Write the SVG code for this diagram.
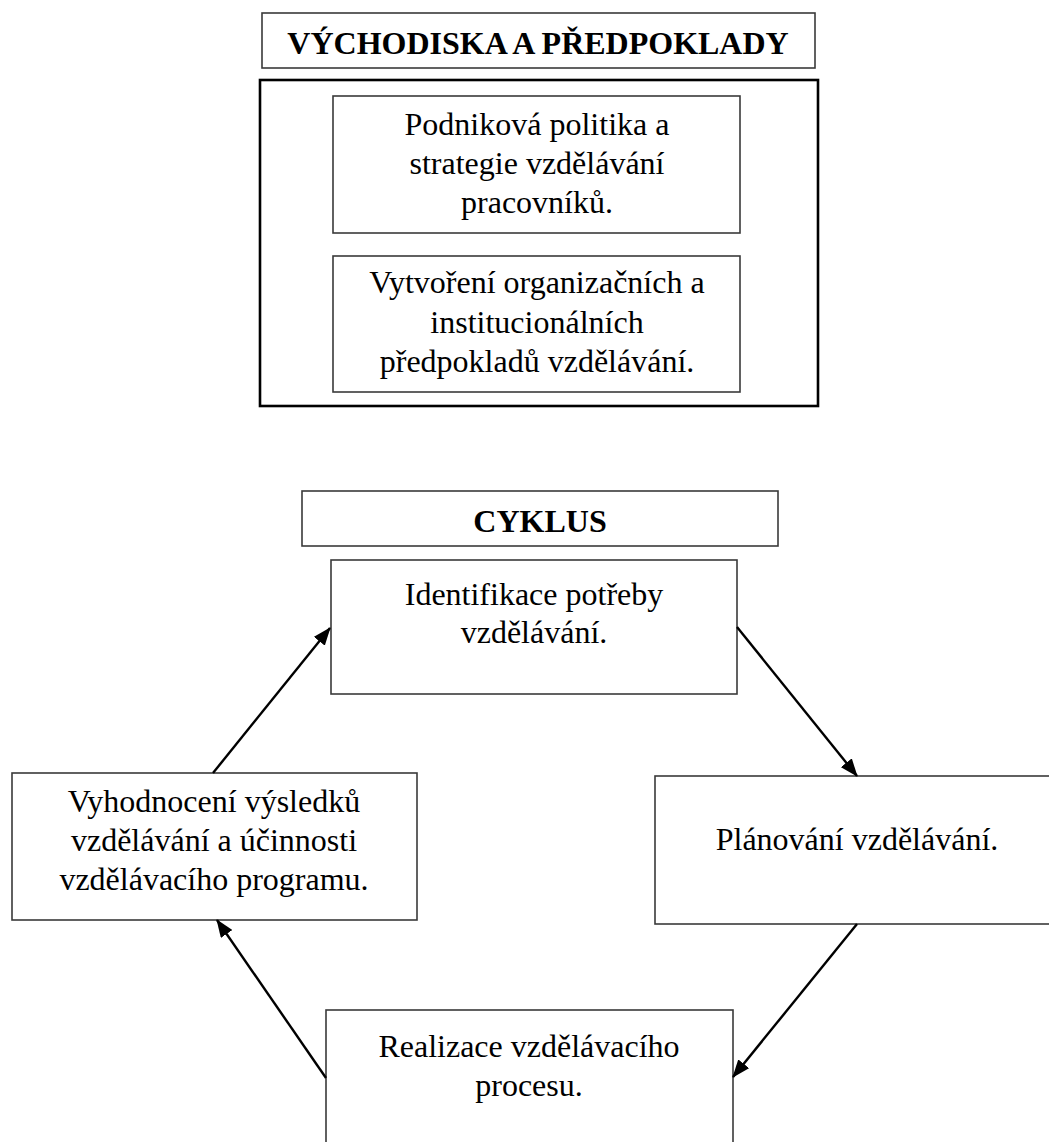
<svg xmlns="http://www.w3.org/2000/svg" width="1049" height="1142" viewBox="0 0 1049 1142">
<defs>
<marker id="ah" markerWidth="18" markerHeight="14" refX="17" refY="7" orient="auto" markerUnits="userSpaceOnUse">
<path d="M0,0 L18,7 L0,14 Z" fill="#000"/>
</marker>
<style>
.box{fill:#fff;stroke:#3a3a3a;stroke-width:1.6}
.outer{fill:none;stroke:#000;stroke-width:2.6}
.t{font-family:"Liberation Serif","Times New Roman",serif;font-size:32px;fill:#000;text-anchor:middle}
.b{font-weight:bold}
.c{stroke:#000;stroke-width:2.4;fill:none;marker-end:url(#ah)}
</style>
</defs>
<rect width="1049" height="1142" fill="#fff"/>
<g id="title">
<rect class="box" x="262" y="13" width="553" height="55"/>
<text class="t b" x="538" y="54">VÝCHODISKA A PŘEDPOKLADY</text>
</g>
<g id="vychodiska">
<rect class="outer" x="260" y="80" width="558" height="326"/>
</g>
<g id="politika">
<rect class="box" x="333" y="96" width="407" height="137"/>
<text class="t" x="537" y="135">Podniková politika a</text>
<text class="t" x="537" y="174">strategie vzdělávání</text>
<text class="t" x="537" y="213">pracovníků.</text>
</g>
<g id="predpoklady">
<rect class="box" x="333" y="256" width="407" height="136"/>
<text class="t" x="537" y="293">Vytvoření organizačních a</text>
<text class="t" x="537" y="333">institucionálních</text>
<text class="t" x="537" y="372">předpokladů vzdělávání.</text>
</g>
<g id="cyklus">
<rect class="box" x="302" y="491" width="476" height="55"/>
<text class="t b" x="540" y="532">CYKLUS</text>
</g>
<g id="identifikace">
<rect class="box" x="331" y="560" width="406" height="134"/>
<text class="t" x="534" y="605">Identifikace potřeby</text>
<text class="t" x="534" y="643">vzdělávání.</text>
</g>
<g id="vyhodnoceni">
<rect class="box" x="12" y="773" width="405" height="147"/>
<text class="t" x="214" y="812">Vyhodnocení výsledků</text>
<text class="t" x="214" y="851">vzdělávání a účinnosti</text>
<text class="t" x="214" y="890">vzdělávacího programu.</text>
</g>
<g id="planovani">
<rect class="box" x="655" y="776" width="410" height="148"/>
<text class="t" x="857" y="850">Plánování vzdělávání.</text>
</g>
<g id="realizace">
<rect class="box" x="326" y="1010" width="407" height="150"/>
<text class="t" x="529" y="1057">Realizace vzdělávacího</text>
<text class="t" x="529" y="1096">procesu.</text>
</g>
<g id="connectors">
<line class="c" x1="213" y1="773" x2="330" y2="628"/>
<line class="c" x1="737" y1="627" x2="857" y2="776"/>
<line class="c" x1="857" y1="924" x2="733" y2="1077"/>
<line class="c" x1="326" y1="1078" x2="217" y2="920"/>
</g>
</svg>
